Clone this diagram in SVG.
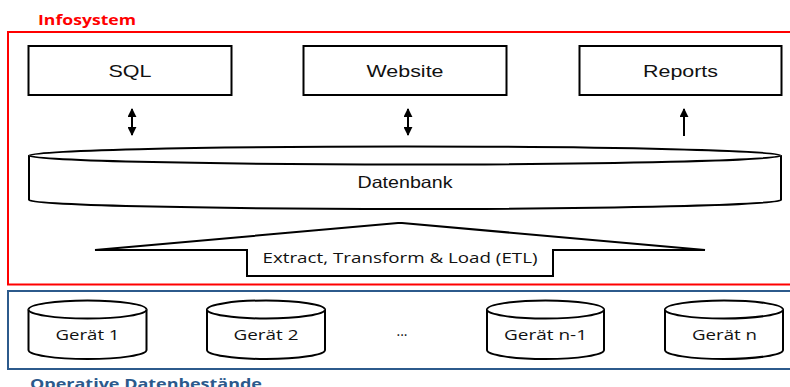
<svg xmlns="http://www.w3.org/2000/svg" width="790" height="387" viewBox="0 0 790 387">
<style>
.box{fill:#fff;stroke:#000;stroke-width:2}
.cyl{fill:#fff;stroke:#000;stroke-width:2}
.lbl{font-family:"Liberation Sans",Arial,sans-serif;font-size:16.5px;fill:#111;text-anchor:middle}
.cal{font-family:"Open Sans","Liberation Sans",sans-serif;font-size:14px;fill:#111;text-anchor:middle}
.arr{stroke:#000;stroke-width:2;fill:none}
</style>
<defs>
<marker id="ah" viewBox="0 0 10 10" refX="9" refY="5" markerWidth="4.5" markerHeight="4.5" orient="auto-start-reverse">
<path d="M0,0 L10,5 L0,10 z" fill="#000"/>
</marker>
</defs>
<rect width="790" height="387" fill="#fff"/>
<g id="infosystem">
<rect x="8" y="32" width="790" height="252.5" fill="none" stroke="#ff0000" stroke-width="2"/>
<text x="38" y="25" font-family="Open Sans,Liberation Sans,sans-serif" font-weight="bold" font-size="13.5" fill="#ff0000" textLength="98" lengthAdjust="spacingAndGlyphs">Infosystem</text>
</g>
<g id="operative">
<rect x="8" y="291" width="790" height="78" fill="none" stroke="#2c5a8c" stroke-width="2"/>
<text x="30" y="388.5" font-family="Open Sans,Liberation Sans,sans-serif" font-weight="bold" font-size="15" fill="#2c5a8c" textLength="232" lengthAdjust="spacingAndGlyphs">Operative Datenbestände</text>
</g>
<g id="sql">
<rect class="box" x="28.5" y="46" width="203" height="49"/>
<text class="lbl" x="130" y="76.5" textLength="43" lengthAdjust="spacingAndGlyphs">SQL</text>
</g>
<g id="website">
<rect class="box" x="303.5" y="46" width="203" height="49"/>
<text class="lbl" x="405" y="76.5" textLength="77" lengthAdjust="spacingAndGlyphs">Website</text>
</g>
<g id="reports">
<rect class="box" x="579.5" y="46" width="202" height="49"/>
<text class="lbl" x="680.5" y="76.5" textLength="75" lengthAdjust="spacingAndGlyphs">Reports</text>
</g>
<g id="datenbank">
<path class="cyl" d="M29,155.5 A376,9 0 0 1 781,155.5 V200 A376,9 0 0 1 29,200 Z"/>
<path class="cyl" d="M29,155.5 A376,9 0 0 0 781,155.5"/>
<text class="lbl" x="405" y="188" font-size="14" textLength="95" lengthAdjust="spacingAndGlyphs">Datenbank</text>
</g>
<g id="etl">
<path fill="#fff" stroke="#000" stroke-width="2" stroke-linejoin="miter" d="M95,250 L398,223 L402,223 L705,250 L553,250 L553,276 L247,276 L247,250 Z"/>
<text class="cal" x="400" y="263" font-size="14.5" textLength="275" lengthAdjust="spacingAndGlyphs">Extract, Transform &amp; Load (ETL)</text>
</g>
<g id="geraet1">
<path class="cyl" d="M28.5,309.5 A59,9 0 0 1 146.5,309.5 V350 A59,9 0 0 1 28.5,350 Z"/>
<path class="cyl" d="M28.5,309.5 A59,9 0 0 0 146.5,309.5"/>
<text class="cal" x="87.5" y="340" font-size="15" textLength="64" lengthAdjust="spacingAndGlyphs">Gerät 1</text>
</g>
<g id="geraet2">
<path class="cyl" d="M207,309.5 A59,9 0 0 1 325,309.5 V350 A59,9 0 0 1 207,350 Z"/>
<path class="cyl" d="M207,309.5 A59,9 0 0 0 325,309.5"/>
<text class="cal" x="266" y="340" font-size="15" textLength="65" lengthAdjust="spacingAndGlyphs">Gerät 2</text>
</g>
<g id="dots">
<text class="cal" x="402" y="336">...</text>
</g>
<g id="geraetn1">
<path class="cyl" d="M487,309.5 A58.5,9 0 0 1 604,309.5 V350 A58.5,9 0 0 1 487,350 Z"/>
<path class="cyl" d="M487,309.5 A58.5,9 0 0 0 604,309.5"/>
<text class="cal" x="545.5" y="340" font-size="15" textLength="83" lengthAdjust="spacingAndGlyphs">Gerät n-1</text>
</g>
<g id="geraetn">
<path class="cyl" d="M665,309.5 A59,9 0 0 1 783,309.5 V350 A59,9 0 0 1 665,350 Z"/>
<path class="cyl" d="M665,309.5 A59,9 0 0 0 783,309.5"/>
<text class="cal" x="724.5" y="340" font-size="15" textLength="65" lengthAdjust="spacingAndGlyphs">Gerät n</text>
</g>
<g id="connectors">
<line class="arr" x1="132" y1="109" x2="132" y2="135" marker-start="url(#ah)" marker-end="url(#ah)"/>
<line class="arr" x1="408" y1="109" x2="408" y2="135" marker-start="url(#ah)" marker-end="url(#ah)"/>
<line class="arr" x1="684" y1="136" x2="684" y2="109" marker-end="url(#ah)"/>
</g>
</svg>
